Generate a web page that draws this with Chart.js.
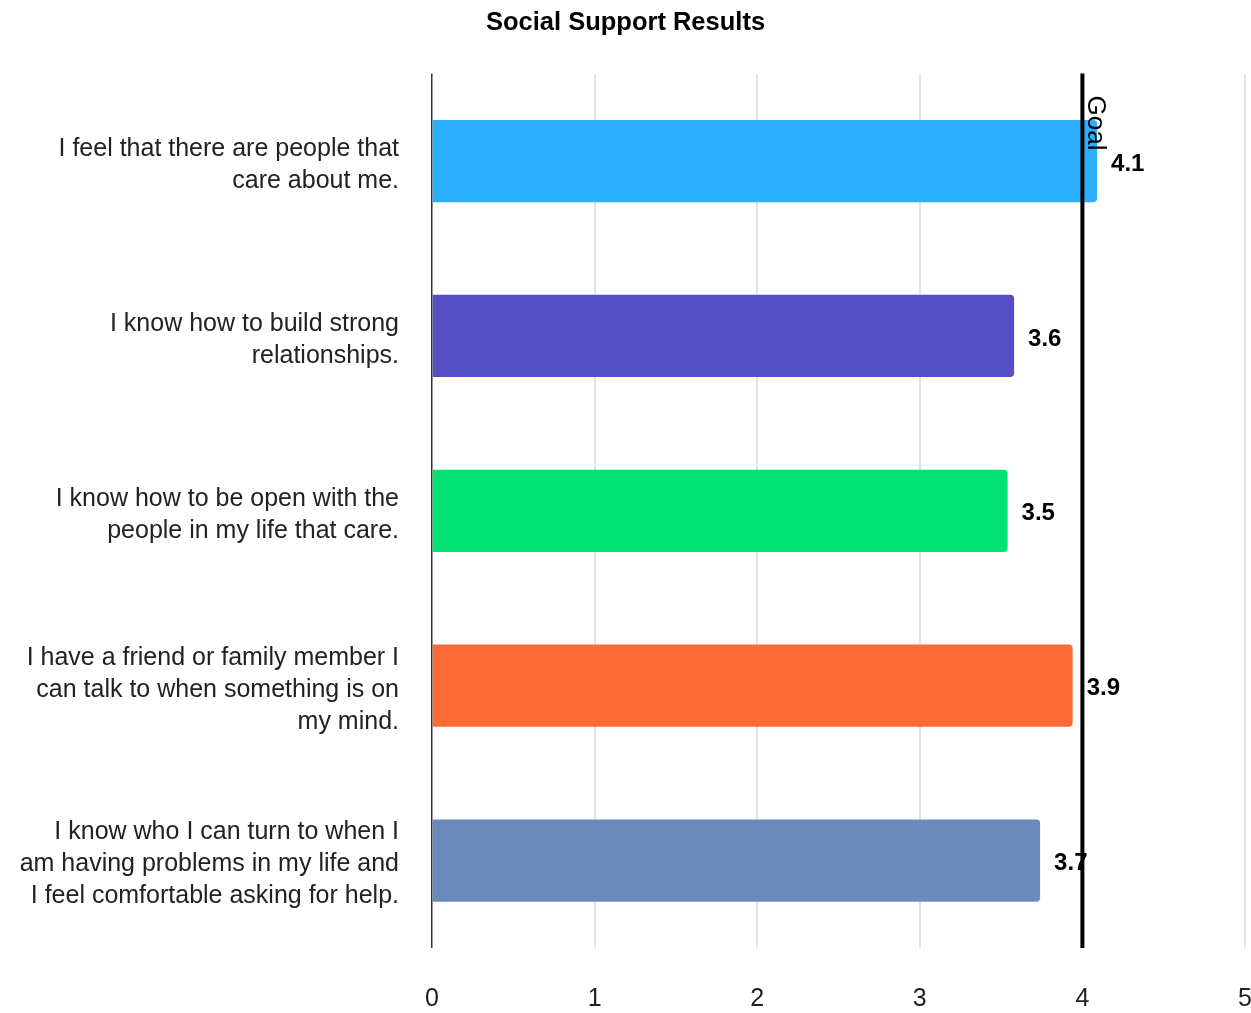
<!DOCTYPE html>
<html>
<head>
<meta charset="utf-8">
<script src="https://cdn.jsdelivr.net/npm/chart.js@4"></script>
<style>
  body { margin: 0; background: #fff; }
  #wrap { width: 1251px; height: 1013px; }
</style>
</head>
<body>
<div id="wrap">
  <canvas id="supportChart" width="1251" height="1013"></canvas>
</div>
<script>
const categories = [
  ['I feel that there are people that', 'care about me.'],
  ['I know how to build strong', 'relationships.'],
  ['I know how to be open with the', 'people in my life that care.'],
  ['I have a friend or family member I', 'can talk to when something is on', 'my mind.'],
  ['I know who I can turn to when I', 'am having problems in my life and', 'I feel comfortable asking for help.']
];
const scores = [4.09, 3.58, 3.54, 3.94, 3.74];
const barColors = ['#2caffe', '#544fc5', '#00e272', '#fe6a35', '#6b8abc'];
const xTicks = [0, 1, 2, 3, 4, 5];
const goalValue = 4;
const goalLabel = 'Goal';

const FONT = '"Liberation Sans", Arial, sans-serif';

// value labels next to each bar + the goal line
const extrasPlugin = {
  id: 'extras',
  afterDatasetsDraw(chart) {
    const ctx = chart.ctx;
    const meta = chart.getDatasetMeta(0);
    ctx.save();
    ctx.font = 'bold 24px ' + FONT;
    ctx.fillStyle = '#000';
    ctx.textAlign = 'left';
    ctx.textBaseline = 'middle';
    meta.data.forEach((bar, i) => {
      ctx.fillText(scores[i].toFixed(1), bar.x + 14, bar.y + 3);
    });

    const area = chart.chartArea;
    const gx = chart.scales.x.getPixelForValue(goalValue);
    ctx.strokeStyle = '#000';
    ctx.lineWidth = 4;
    ctx.beginPath();
    ctx.moveTo(gx, area.top);
    ctx.lineTo(gx, area.bottom);
    ctx.stroke();

    ctx.translate(gx + 6, area.top + 22);
    ctx.rotate(Math.PI / 2);
    ctx.font = '26px ' + FONT;
    ctx.textBaseline = 'alphabetic';
    ctx.fillText(goalLabel, 0, 0);
    ctx.restore();
  }
};

new Chart(document.getElementById('supportChart'), {
  type: 'bar',
  data: {
    labels: categories,
    datasets: [{
      data: scores,
      backgroundColor: barColors,
      borderRadius: 4,
      borderSkipped: 'start',
      barPercentage: 0.47,
      categoryPercentage: 1
    }]
  },
  options: {
    indexAxis: 'y',
    responsive: false,
    animation: false,
    layout: { padding: 0 },
    plugins: {
      legend: { display: false },
      tooltip: { enabled: false },
      title: {
        display: true,
        text: 'Social Support Results',
        color: '#000',
        font: { family: FONT, size: 25.5, weight: 'bold' },
        padding: { top: 8, bottom: 35 }
      }
    },
    scales: {
      x: {
        min: 0,
        max: 5,
        afterBuildTicks: axis => { axis.ticks = xTicks.map(v => ({ value: v })); },
        afterFit: axis => { axis.height = 65; axis.paddingRight = 6; },
        ticks: {
          color: '#222',
          padding: 0,
          maxRotation: 0,
          font: { family: FONT, size: 25 }
        },
        grid: {
          drawTicks: true,
          tickLength: 36,
          tickColor: 'rgba(0,0,0,0)',
          color: c => c.tick && c.tick.value === 0 ? '#333' : '#e3e3e3',
          lineWidth: c => c.tick && c.tick.value === 0 ? 1.5 : 2
        },
        border: { display: false }
      },
      y: {
        afterFit: axis => {
          axis.width = 432;
          axis.paddingTop = 0;
          axis.paddingBottom = 0;
        },
        ticks: {
          color: '#222',
          padding: 33,
          labelOffset: 4,
          font: { family: FONT, size: 25, lineHeight: 1.28 }
        },
        grid: { display: false, drawTicks: false },
        border: { display: false }
      }
    }
  },
  plugins: [extrasPlugin]
});
</script>
</body>
</html>
